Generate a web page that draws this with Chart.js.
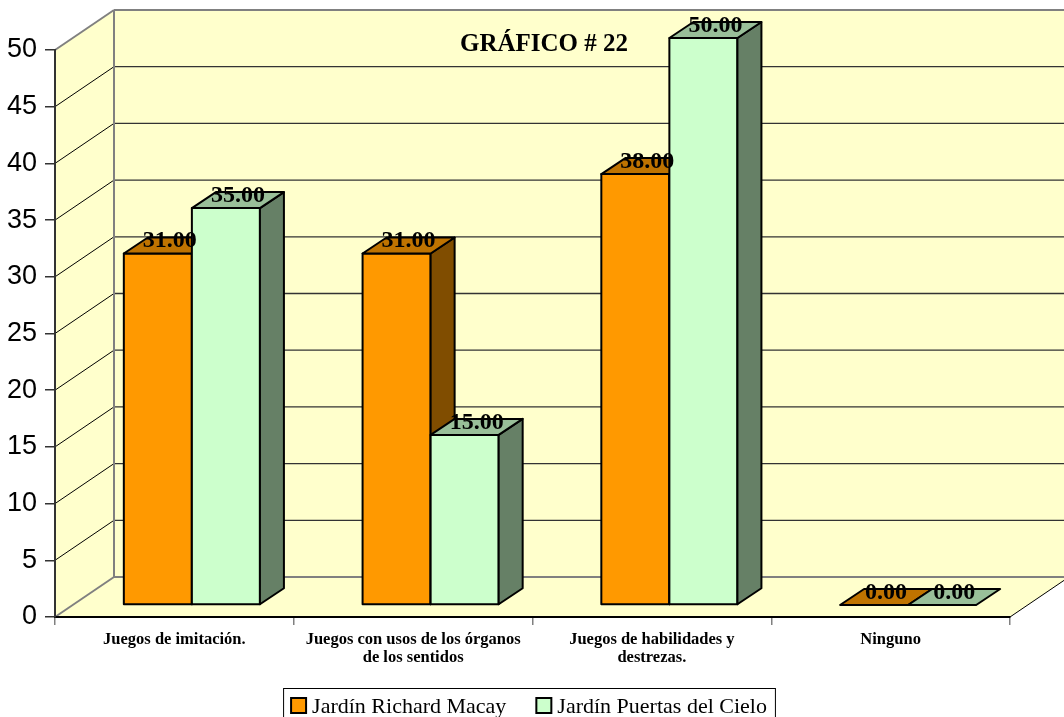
<!DOCTYPE html>
<html>
<head>
<meta charset="utf-8">
<script src="https://cdn.jsdelivr.net/npm/chart.js@4"></script>
<style>
  html, body { margin: 0; padding: 0; background: #fff; }
  #wrap { width: 1064px; height: 717px; position: relative; }
</style>
</head>
<body>
<div id="wrap"><canvas id="chart" width="1064" height="717"></canvas></div>
<script>
// data
const chartTitle = 'GRÁFICO # 22';
const categories = [
  'Juegos de imitación.',
  ['Juegos con usos de los órganos', 'de los sentidos'],
  ['Juegos de habilidades y', 'destrezas.'],
  'Ninguno'
];
const seriesNames = ['Jardín Richard Macay', 'Jardín Puertas del Cielo'];
const richardMacay = [31, 31, 38, 0];
const puertasCielo = [35, 15, 50, 0];
const yMin = 0, yMax = 50, yStep = 5;

// look
const faces = [
  { front: '#FF9900', top: '#BF7300', side: '#804D00' },
  { front: '#CCFFCC', top: '#99BF99', side: '#668066' }
];
const WALL = { dx: 59, dy: -40 };      // depth of the floor / side wall
const SHIFT = { dx: 17.5, dy: -12 };   // bars sit a bit behind the front plane
const DEPTH = { dx: 24, dy: -16 };     // depth of one bar
const serif = "'Liberation Serif', 'Times New Roman', serif";

function poly(ctx, pts) {
  ctx.beginPath();
  ctx.moveTo(pts[0][0], pts[0][1]);
  for (let i = 1; i < pts.length; i++) ctx.lineTo(pts[i][0], pts[i][1]);
  ctx.closePath();
}

function line(ctx, x1, y1, x2, y2, color, w) {
  ctx.beginPath();
  ctx.strokeStyle = color;
  ctx.lineWidth = w;
  ctx.moveTo(x1, y1);
  ctx.lineTo(x2, y2);
  ctx.stroke();
}

const scene3d = {
  id: 'scene3d',
  beforeDraw(chart) {
    const { ctx, chartArea: a, scales: { y } } = chart;
    const W = chart.width;
    const bx = a.left + WALL.dx;
    const bTop = a.top + WALL.dy, bBot = a.bottom + WALL.dy;
    ctx.save();
    ctx.fillStyle = '#FFFFCC';
    ctx.fillRect(bx, bTop, W - bx, bBot - bTop);
    poly(ctx, [[a.left, a.top], [bx, bTop], [bx, bBot], [a.left, a.bottom]]);
    ctx.fill();
    poly(ctx, [[a.left, a.bottom], [a.right, a.bottom], [a.right + WALL.dx, bBot], [bx, bBot]]);
    ctx.fill();

    // walls grid
    y.ticks.forEach(t => {
      const py = y.getPixelForValue(t.value);
      const edge = t.value === yMin || t.value === yMax;
      if (edge) {
        line(ctx, bx, py + WALL.dy, W, py + WALL.dy, '#808080', 2);
        line(ctx, a.left, py, bx, py + WALL.dy, '#808080', 2);
      } else {
        line(ctx, bx, py + WALL.dy, W, py + WALL.dy, '#333', 1.3);
        line(ctx, a.left, py, bx, py + WALL.dy, '#000', 1);
      }
    });
    line(ctx, bx, bTop, bx, bBot, '#808080', 2);
    line(ctx, a.right, a.bottom, a.right + WALL.dx, bBot, '#000', 1);

    ctx.fillStyle = '#000';
    ctx.font = 'bold 25px ' + serif;
    ctx.textAlign = 'center';
    ctx.textBaseline = 'alphabetic';
    ctx.fillText(chartTitle, 544, 51);
    ctx.restore();
  },
  beforeDatasetsDraw(chart) {
    chart.ctx.save();
    chart.ctx.translate(SHIFT.dx, SHIFT.dy);
  },
  afterDatasetsDraw(chart) {
    const ctx = chart.ctx;
    const metas = chart.data.datasets.map((d, i) => chart.getDatasetMeta(i));
    ctx.lineWidth = 2;
    ctx.strokeStyle = '#000';
    ctx.lineJoin = 'round';
    // redraw the boxes category by category, left to right
    categories.forEach((c, i) => {
      metas.forEach((m, d) => {
        const { x, y, base, width } = m.data[i].getProps(['x', 'y', 'base', 'width'], true);
        const l = x - width / 2, r = x + width / 2;
        const h = base - y;
        const f = faces[d];
        if (h > 0.5) {
          ctx.fillStyle = f.front;
          poly(ctx, [[l, y], [r, y], [r, base], [l, base]]);
          ctx.fill(); ctx.stroke();
          ctx.fillStyle = f.side;
          poly(ctx, [[r, y], [r + DEPTH.dx, y + DEPTH.dy], [r + DEPTH.dx, base + DEPTH.dy], [r, base]]);
          ctx.fill(); ctx.stroke();
        }
        ctx.fillStyle = f.top;
        poly(ctx, [[l, y], [r, y], [r + DEPTH.dx, y + DEPTH.dy], [l + DEPTH.dx, y + DEPTH.dy]]);
        ctx.fill(); ctx.stroke();
      });
    });
    // value labels
    ctx.fillStyle = '#000';
    ctx.font = 'bold 24px ' + serif;
    ctx.textAlign = 'center';
    ctx.textBaseline = 'alphabetic';
    metas.forEach((m, d) => {
      m.data.forEach((el, i) => {
        const { x, y } = el.getProps(['x', 'y'], true);
        const v = chart.data.datasets[d].data[i];
        ctx.fillText(v.toFixed(2), x + DEPTH.dx / 2, y - 6);
      });
    });
    ctx.restore();
  },
  afterDraw(chart) {
    const ctx = chart.ctx;
    ctx.save();
    ctx.font = '22px ' + serif;
    const box = 15, gap = 6, between = 30, pad = 8;
    const widths = chart.data.datasets.map(d => ctx.measureText(d.label).width);
    const content = widths.reduce((s, w) => s + box + gap + w, 0) + between * (widths.length - 1);
    const left = 529 - content / 2 - pad;
    const top = 688;
    ctx.fillStyle = '#fff';
    ctx.fillRect(left, top, content + pad * 2, 40);
    ctx.strokeStyle = '#000';
    ctx.lineWidth = 1;
    ctx.strokeRect(left + 0.5, top + 0.5, content + pad * 2, 40);
    let x = left + pad;
    ctx.textBaseline = 'alphabetic';
    ctx.textAlign = 'left';
    chart.data.datasets.forEach((d, i) => {
      ctx.fillStyle = faces[i].front;
      ctx.fillRect(x, 698, box, box);
      ctx.lineWidth = 2;
      ctx.strokeRect(x, 698, box, box);
      ctx.fillStyle = '#000';
      ctx.fillText(d.label, x + box + gap, 713);
      x += box + gap + widths[i] + between;
    });
    ctx.restore();
  }
};

new Chart(document.getElementById('chart'), {
  type: 'bar',
  data: {
    labels: categories,
    datasets: [
      { label: seriesNames[0], data: richardMacay, backgroundColor: faces[0].front, borderColor: '#000', borderWidth: 2 },
      { label: seriesNames[1], data: puertasCielo, backgroundColor: faces[1].front, borderColor: '#000', borderWidth: 2 }
    ]
  },
  options: {
    responsive: false,
    animation: false,
    events: [],
    categoryPercentage: 0.57,
    barPercentage: 1,
    layout: { padding: { top: 50, right: 54, left: 0, bottom: 0 } },
    plugins: { legend: { display: false }, tooltip: { enabled: false } },
    scales: {
      x: {
        grid: { drawOnChartArea: false, tickLength: 8, color: '#808080', lineWidth: 1.5, offset: true },
        border: { color: '#000', width: 2 },
        ticks: { font: { family: serif, size: 16.5, weight: 'bold', lineHeight: 1.1 }, color: '#000', padding: 6, maxRotation: 0, autoSkip: false },
        afterFit: s => { s.height = 100; }
      },
      y: {
        min: yMin, max: yMax,
        ticks: { stepSize: yStep, font: { family: "'Liberation Sans', Arial, sans-serif", size: 27 }, color: '#000', padding: 8 },
        grid: { drawOnChartArea: false, tickLength: 10, color: '#333', lineWidth: 1.5 },
        border: { color: '#333', width: 2 },
        afterFit: s => { s.width = 55; }
      }
    }
  },
  plugins: [scene3d]
});
</script>
</body>
</html>
